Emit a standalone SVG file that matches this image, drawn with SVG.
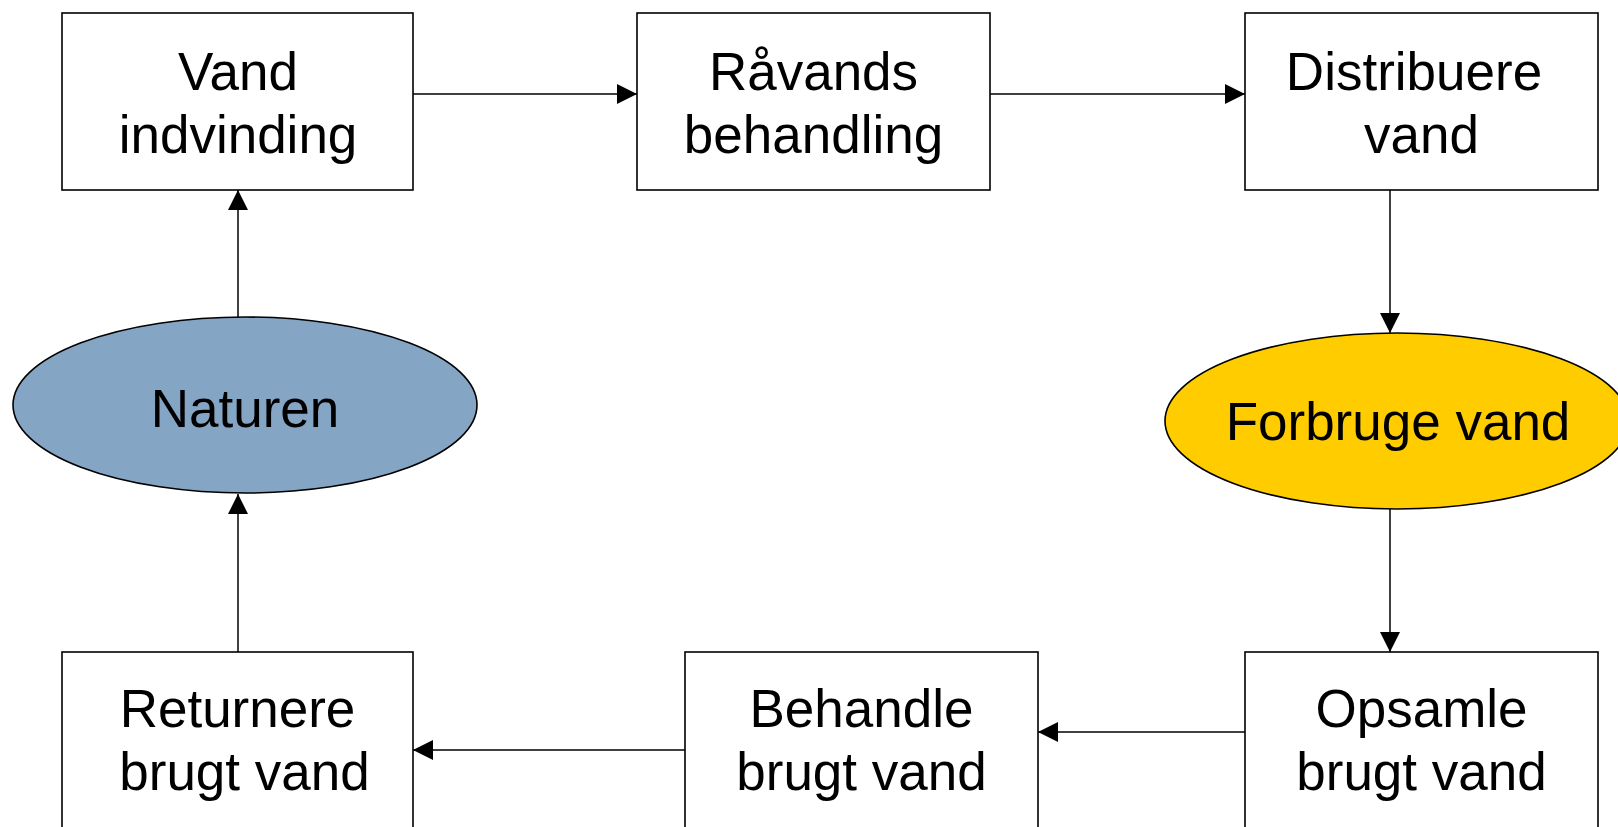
<svg xmlns="http://www.w3.org/2000/svg" width="1618" height="827" viewBox="0 0 1618 827">
<style>
.box{fill:#fff;stroke:#000;stroke-width:1.6}
.ell{stroke:#000;stroke-width:1.6}
.lbl{font-family:"Liberation Sans",Arial,sans-serif;font-size:53px;fill:#000;text-anchor:middle}
.con{stroke:#000;stroke-width:1.5;fill:none;marker-end:url(#ah)}
</style>
<defs>
<marker id="ah" markerUnits="userSpaceOnUse" markerWidth="20" markerHeight="20" refX="20" refY="10" orient="auto" viewBox="0 0 20 20">
<path d="M0,0 L20,10 L0,20 z" fill="#000"/>
</marker>
</defs>
<rect width="1618" height="827" fill="#fff"/>
<g id="connectors">
<line class="con" x1="413" y1="94" x2="637" y2="94"/>
<line class="con" x1="990" y1="94" x2="1245" y2="94"/>
<line class="con" x1="1390" y1="190" x2="1390" y2="333"/>
<line class="con" x1="1390" y1="509" x2="1390" y2="652"/>
<line class="con" x1="1245" y1="732" x2="1038" y2="732"/>
<line class="con" x1="685" y1="750" x2="413" y2="750"/>
<line class="con" x1="238" y1="652" x2="238" y2="494"/>
<line class="con" x1="238" y1="318" x2="238" y2="190"/>
</g>
<g id="vand-indvinding">
<rect class="box" x="62" y="13" width="351" height="177"/>
<text class="lbl" x="238" y="90">Vand</text>
<text class="lbl" x="238" y="153">indvinding</text>
</g>
<g id="raavands-behandling">
<rect class="box" x="637" y="13" width="353" height="177"/>
<text class="lbl" x="813.5" y="90">Råvands</text>
<text class="lbl" x="813.5" y="153">behandling</text>
</g>
<g id="distribuere-vand">
<rect class="box" x="1245" y="13" width="353" height="177"/>
<text class="lbl" x="1414" y="90">Distribuere</text>
<text class="lbl" x="1421.5" y="153">vand</text>
</g>
<g id="forbruge-vand">
<ellipse class="ell" cx="1397" cy="421" rx="232" ry="88" fill="#FFCC00"/>
<text class="lbl" x="1398" y="440">Forbruge vand</text>
</g>
<g id="opsamle-brugt-vand">
<rect class="box" x="1245" y="652" width="353" height="177"/>
<text class="lbl" x="1421.5" y="727">Opsamle</text>
<text class="lbl" x="1421.5" y="790">brugt vand</text>
</g>
<g id="behandle-brugt-vand">
<rect class="box" x="685" y="652" width="353" height="177"/>
<text class="lbl" x="861.5" y="727">Behandle</text>
<text class="lbl" x="861.5" y="790">brugt vand</text>
</g>
<g id="returnere-brugt-vand">
<rect class="box" x="62" y="652" width="351" height="177"/>
<text class="lbl" x="237.5" y="727">Returnere</text>
<text class="lbl" x="244.5" y="790">brugt vand</text>
</g>
<g id="naturen">
<ellipse class="ell" cx="245" cy="405" rx="232" ry="88" fill="#84A5C4"/>
<text class="lbl" x="245" y="427">Naturen</text>
</g>
</svg>
